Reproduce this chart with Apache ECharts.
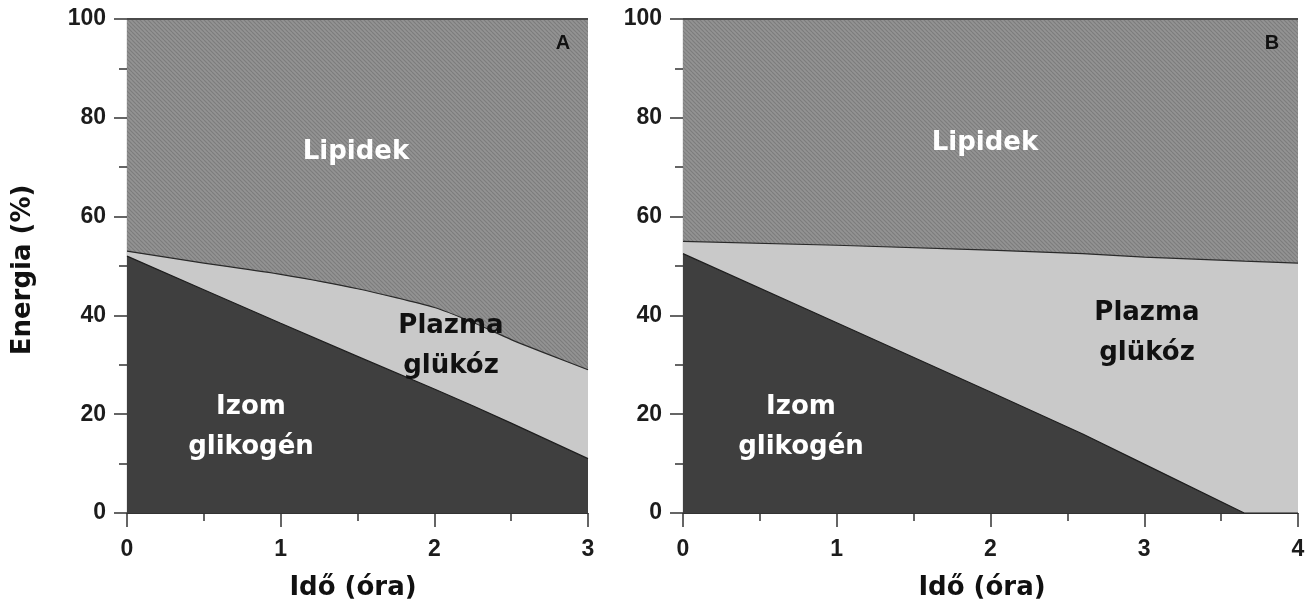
<!DOCTYPE html>
<html>
<head>
<meta charset="utf-8">
<script src="https://cdn.jsdelivr.net/npm/echarts@6/dist/echarts.min.js"></script>
<style>
  html, body { margin: 0; padding: 0; background: #fff; }
  #chart { width: 1316px; height: 612px; }
</style>
</head>
<body>
<div id="chart"></div>
<script>
// Energy sources during exercise, share of total energy (%)
// Panel A: 0-3 h, Panel B: 0-4 h
const hoursA = [0, 0.5, 1, 1.5, 2, 2.25, 2.5, 2.75, 3];
const glycogenA = [52, 45.2, 38.4, 31.7, 25.1, 21.7, 18.2, 14.6, 11];
const plasmaA = [1, 5.4, 9.9, 13.7, 16.5, 16.9, 16.9, 17.4, 18];

const hoursB = [0, 1, 2, 2.6, 3, 3.65, 4];
const glycogenB = [52.5, 38.5, 24.5, 16, 9.9, 0, 0];
const plasmaB = [2.5, 15.7, 28.7, 36.5, 41.9, 51, 50.6];

const xTitle = 'Idő (óra)';
const yTitle = 'Energia (%)';
const panelLetters = ['A', 'B'];
const regionNames = { lipid: 'Lipidek', plasma: 'Plazma\nglükóz', glycogen: 'Izom\nglikogén' };

// hatched fill for the lipid band
function hatch() {
  const c = document.createElement('canvas');
  c.width = 8; c.height = 8;
  const g = c.getContext('2d');
  g.fillStyle = '#939393';
  g.fillRect(0, 0, 8, 8);
  g.strokeStyle = '#7c7c7c';
  g.lineWidth = 1.1;
  for (let x0 = -8; x0 <= 8; x0 += 4) {
    g.beginPath();
    g.moveTo(x0, 0);
    g.lineTo(x0 + 8, 8);
    g.stroke();
  }
  return c;
}
const lipidFill = { image: hatch(), repeat: 'repeat' };

const tickFont = { fontFamily: 'Liberation Sans', fontWeight: 'bold', fontSize: 23, color: '#1c1c1c' };
const textFont = 'bold 26px "DejaVu Sans"';

function cumulative(a, b) { return a.map((v, i) => v + b[i]); }

function panel(idx, hours, gly, pla, xmax, smoothTop) {
  const top = cumulative(gly, pla);
  return [
    {
      type: 'line', xAxisIndex: idx, yAxisIndex: idx, symbol: 'none', z: 1,
      data: [[0, 100], [xmax, 100]],
      lineStyle: { color: '#4a4a4a', width: 2 },
      areaStyle: { color: lipidFill, opacity: 1 }
    },
    {
      type: 'line', xAxisIndex: idx, yAxisIndex: idx, symbol: 'none', z: 2,
      smooth: smoothTop,
      data: hours.map((h, i) => [h, top[i]]),
      lineStyle: { color: '#2a2a2a', width: 1.2 },
      areaStyle: { color: '#c9c9c9', opacity: 1 }
    },
    {
      type: 'line', xAxisIndex: idx, yAxisIndex: idx, symbol: 'none', z: 3,
      data: hours.map((h, i) => [h, gly[i]]),
      lineStyle: { color: '#1e1e1e', width: 1.2 },
      areaStyle: { color: '#3f3f3f', opacity: 1 }
    }
  ];
}

function xAxis(idx, xmax) {
  return {
    type: 'value', gridIndex: idx, min: 0, max: xmax, interval: 1,
    axisLine: { show: true, onZero: false, lineStyle: { color: '#333', width: 1.2 } },
    axisTick: { show: true, length: 14, lineStyle: { color: '#333', width: 1.5 } },
    minorTick: { show: true, splitNumber: 2, length: 8, lineStyle: { color: '#333', width: 1.5 } },
    axisLabel: Object.assign({ margin: 25 }, tickFont),
    splitLine: { show: false }
  };
}
function yAxis(idx) {
  return {
    type: 'value', gridIndex: idx, min: 0, max: 100, interval: 20,
    axisLine: { show: true, lineStyle: { color: '#333', width: 1.2 } },
    axisTick: { show: true, length: 13, lineStyle: { color: '#333', width: 1.5 } },
    minorTick: { show: true, splitNumber: 2, length: 8, lineStyle: { color: '#333', width: 1.5 } },
    axisLabel: Object.assign({ margin: 21 }, tickFont),
    splitLine: { show: false }
  };
}

function txt(x, y, s, color, font) {
  return {
    type: 'text', x: x, y: y, z: 100,
    style: { text: s, fill: color, font: font || textFont, align: 'center', verticalAlign: 'middle', lineHeight: 40 }
  };
}

const chart = echarts.init(document.getElementById('chart'), null, { renderer: 'canvas' });
chart.setOption({
  animation: false,
  backgroundColor: '#ffffff',
  grid: [
    { left: 127, top: 19, width: 461, height: 494 },
    { left: 683, top: 19, width: 615, height: 494 }
  ],
  xAxis: [xAxis(0, 3), xAxis(1, 4)],
  yAxis: [yAxis(0), yAxis(1)],
  series: [].concat(
    panel(0, hoursA, glycogenA, plasmaA, 3, 0.2),
    panel(1, hoursB, glycogenB, plasmaB, 4, false)
  ),
  graphic: [
    // axis titles
    txt(353, 588, xTitle, '#111'),
    txt(982, 588, xTitle, '#111'),
    { type: 'text', x: 23, y: 270, rotation: Math.PI / 2, z: 100,
      style: { text: yTitle, fill: '#111', font: textFont, align: 'center', verticalAlign: 'middle' } },
    // panel letters
    txt(563, 43, panelLetters[0], '#111', 'bold 20px "Liberation Sans"'),
    txt(1272, 43, panelLetters[1], '#111', 'bold 20px "Liberation Sans"'),
    // region labels, panel A
    txt(356, 152, regionNames.lipid, '#ffffff'),
    txt(451, 346, regionNames.plasma, '#111'),
    txt(251, 427, regionNames.glycogen, '#ffffff'),
    // region labels, panel B
    txt(985, 143, regionNames.lipid, '#ffffff'),
    txt(1147, 333, regionNames.plasma, '#111'),
    txt(801, 427, regionNames.glycogen, '#ffffff')
  ]
});
</script>
</body>
</html>
